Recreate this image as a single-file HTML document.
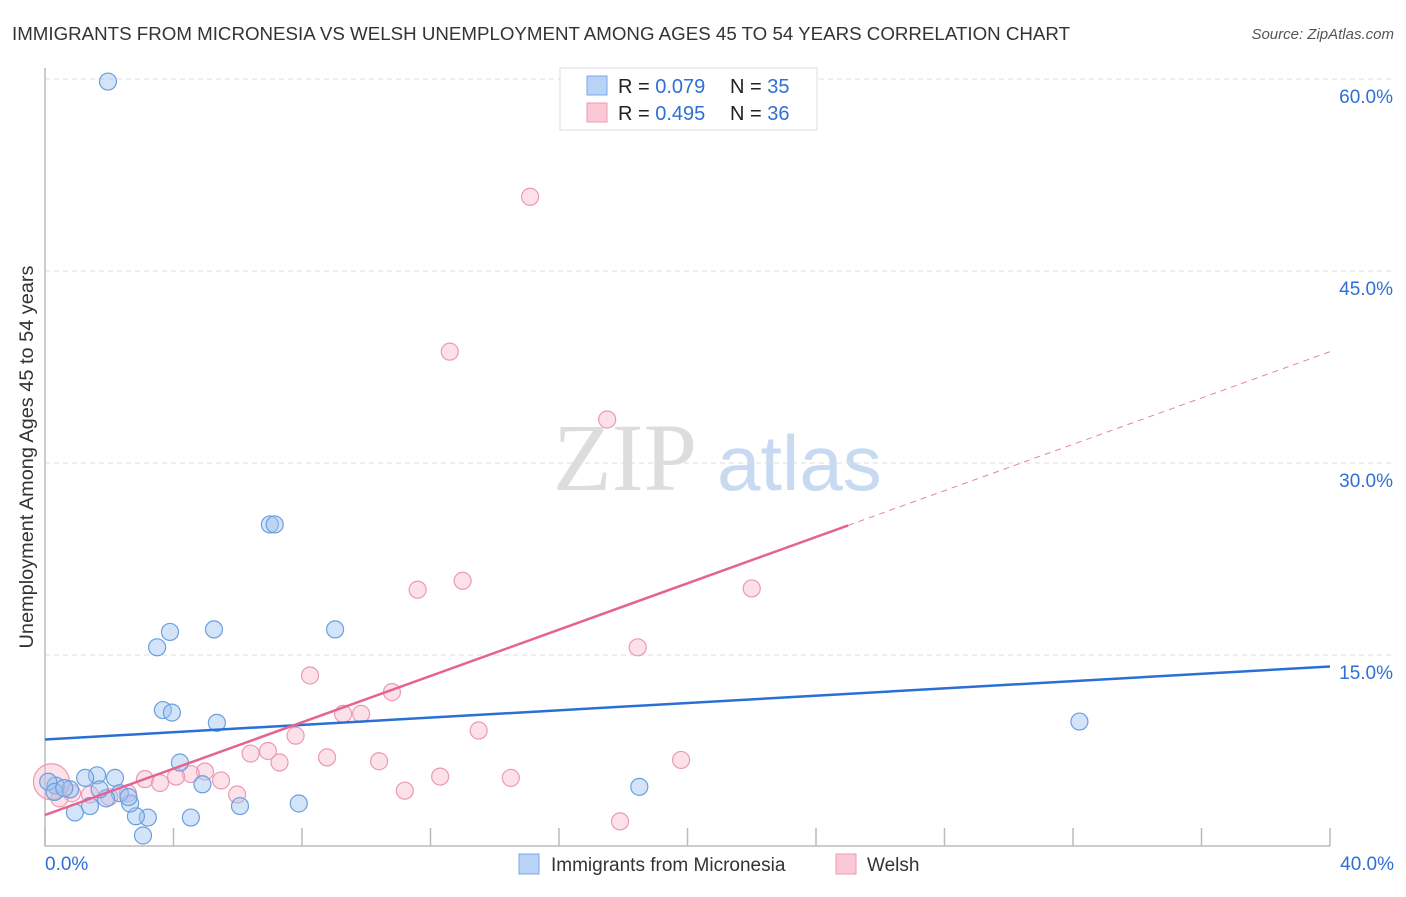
<!DOCTYPE html>
<html><head><meta charset="utf-8"><style>
body{margin:0;background:#fff;font-family:"Liberation Sans",sans-serif;}
</style></head><body>
<svg width="1406" height="892" xmlns="http://www.w3.org/2000/svg" id="svg">
<text x="12" y="40" font-size="18" fill="#333" textLength="1058" lengthAdjust="spacingAndGlyphs">IMMIGRANTS FROM MICRONESIA VS WELSH UNEMPLOYMENT AMONG AGES 45 TO 54 YEARS CORRELATION CHART</text>
<text x="1394" y="39" font-size="15" fill="#555" font-style="italic" text-anchor="end">Source: ZipAtlas.com</text>
<text x="0" y="0" transform="translate(33,457) rotate(-90)" font-size="19" fill="#333" text-anchor="middle" textLength="383" lengthAdjust="spacingAndGlyphs">Unemployment Among Ages 45 to 54 years</text>
<text x="553" y="490" font-size="96" fill="#ddd" font-family="Liberation Serif,serif">ZIP</text>
<text x="717" y="490" font-size="78" fill="#c8daf2">atlas</text>
<g id="grid"></g><g id="marks"></g>
<g>
<rect x="560" y="68" width="257" height="62" fill="#fff" stroke="#ddd"/>
<rect x="587" y="76" width="20" height="19" fill="#b8d3f5" stroke="#7aa7e6"/>
<rect x="587" y="103" width="20" height="19" fill="#fbc8d6" stroke="#ec9ab2"/>
<text x="618" y="93" font-size="20" fill="#222">R = <tspan fill="#2f6fd6">0.079</tspan></text>
<text x="730" y="93" font-size="20" fill="#222">N = <tspan fill="#2f6fd6">35</tspan></text>
<text x="618" y="120" font-size="20" fill="#222">R = <tspan fill="#2f6fd6">0.495</tspan></text>
<text x="730" y="120" font-size="20" fill="#222">N = <tspan fill="#2f6fd6">36</tspan></text>
</g>
<g>
<rect x="519" y="854" width="20" height="20" fill="#b8d3f5" stroke="#7aa7e6"/>
<text x="551" y="871" font-size="19" fill="#333">Immigrants from Micronesia</text>
<rect x="836" y="854" width="20" height="20" fill="#fbc8d6" stroke="#ec9ab2"/>
<text x="867" y="871" font-size="19" fill="#333">Welsh</text>
</g>
</svg>
<script>
const yTicks=[15,30,45,60];
const yTickLabels=["15.0%","30.0%","45.0%","60.0%"];
const xTicks=[0,4,8,12,16,20,24,28,32,36,40];
const blueX=[1.96,7.0,7.15,3.49,3.89,5.26,9.03,3.67,3.95,5.35,4.2,32.2,18.5,7.9,6.07,4.9,4.54,3.05,3.2,2.83,2.65,2.18,2.33,1.9,1.62,1.25,1.4,0.93,0.78,0.33,0.1,0.3,1.7,0.6,2.6];
const blueY=[59.8,25.2,25.2,15.6,16.8,17.0,17.0,10.7,10.5,9.7,6.6,9.8,4.7,3.4,3.2,4.9,2.3,0.9,2.3,2.4,3.4,5.4,4.2,3.8,5.6,5.4,3.2,2.7,4.5,4.8,5.1,4.3,4.5,4.6,3.9];
const pinkX=[15.1,12.6,17.5,13.0,11.6,22.0,18.45,8.25,10.8,9.28,9.84,13.5,7.8,6.94,6.4,8.78,7.3,10.4,19.8,12.3,14.5,11.2,17.9,4.98,4.54,5.48,4.08,3.11,3.58,5.98,2.58,1.4,0.84,2.0,0.45,0.2];
const pinkY=[50.8,38.7,33.4,20.8,20.1,20.2,15.6,13.4,12.1,10.4,10.4,9.1,8.7,7.5,7.3,7.0,6.6,6.7,6.8,5.5,5.4,4.4,2.0,5.9,5.7,5.2,5.5,5.3,5.0,4.1,4.2,4.1,4.2,3.9,3.8,5.1];
const blueTrend=[8.4,14.1];
const pinkTrend=[2.5,38.7];
const pinkSolidEnd=25;
const X=v=>45+v*32.125, Y=v=>847-v*12.8;
const NS="http://www.w3.org/2000/svg";
const grid=document.getElementById('grid'), marks=document.getElementById('marks');
function mk(tag,attrs,parent){const e=document.createElementNS(NS,tag);for(const k in attrs)e.setAttribute(k,attrs[k]);parent.appendChild(e);return e;}
yTicks.forEach((t,i)=>{
 const l=mk('line',{x1:45,x2:1394,y1:Y(t),y2:Y(t),stroke:'#ddd','stroke-dasharray':'5,4'},grid);
 
 
 const tx=mk('text',{x:1393,y:Y(t)+24,'font-size':19,fill:'#2f6fd6','text-anchor':'end'},grid);
 tx.textContent=yTickLabels[i];
 
 
});
const ax=mk('path',{d:`M45,68V846H1330`,stroke:'#bbb',fill:'none','stroke-width':1.5},grid);


xTicks.forEach(t=>{
 const l=mk('line',{x1:X(t),x2:X(t),y1:828,y2:846,stroke:'#bbb','stroke-width':1.5},grid);
 
 
});
[[0,"0.0%",'start',45],[40,"40.0%",'end',1394]].forEach(a=>{
 const tx=mk('text',{x:a[3],y:870,'font-size':19,fill:'#2f6fd6','text-anchor':a[2]},grid);
 tx.textContent=a[1];
 
 
});
function pts(xs,ys,fill,stroke,name){xs.forEach((x,i)=>{
 const c=mk('circle',{cx:X(x),cy:Y(ys[i]),r:(name==='welsh-point'&&i===xs.length-1)?18:8.5,fill:fill,stroke:stroke,'stroke-width':1.2},marks);
 
 
});}
pts(pinkX,pinkY,'rgba(248,180,200,0.4)','#eb9ab2','welsh-point');
pts(blueX,blueY,'rgba(160,196,240,0.45)','#6a9fe0','micronesia-point');
const bt=mk('line',{x1:X(0),y1:Y(blueTrend[0]),x2:X(40),y2:Y(blueTrend[1]),stroke:'#2a6fd4','stroke-width':2.5},marks);


const pv=x=>pinkTrend[0]+(pinkTrend[1]-pinkTrend[0])*x/40;
const pt=mk('line',{x1:X(0),y1:Y(pv(0)),x2:X(pinkSolidEnd),y2:Y(pv(pinkSolidEnd)),stroke:'#e5648f','stroke-width':2.5},marks);


const pd=mk('line',{x1:X(pinkSolidEnd),y1:Y(pv(pinkSolidEnd)),x2:X(40),y2:Y(pv(40)),stroke:'#e5849f','stroke-width':1,'stroke-dasharray':'6,5'},marks);


</script>
</body></html>
